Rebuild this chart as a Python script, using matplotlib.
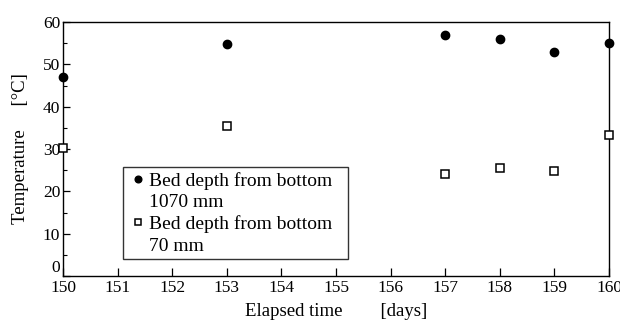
#!/usr/bin/env python3

import matplotlib
matplotlib.use('Agg')
import matplotlib.pyplot as plt
from matplotlib.lines import Line2D
from matplotlib.ticker import MultipleLocator
from matplotlib.transforms import ScaledTranslation

plt.rcParams['font.family'] = ['Liberation Serif', 'DejaVu Serif']

# Elapsed time [days]
days_deep = [150, 153, 157, 158, 159, 160]
temp_deep = [47.1, 54.8, 57.0, 56.0, 52.9, 55.0]   # 1070 mm from bottom

days_shallow = [150, 153, 157, 158, 159, 160]
temp_shallow = [30.2, 35.5, 24.2, 25.5, 24.7, 33.3]  # 70 mm from bottom

legend_lines = ['Bed depth from bottom', '1070 mm',
                'Bed depth from bottom', '70 mm']

x_ticks = list(range(150, 161))
y_ticks = [0, 10, 20, 30, 40, 50, 60]

fig = plt.figure(figsize=(6.2, 3.32), dpi=100)
ax = fig.add_axes([63 / 620, 1 - 276 / 332, 546 / 620, 254 / 332])

deep, = ax.plot(days_deep, temp_deep, 'o', color='black', markersize=6,
                clip_on=False, zorder=5)
shallow, = ax.plot(days_shallow, temp_shallow, 's', markerfacecolor='white',
                   markeredgecolor='black', markeredgewidth=1.1, markersize=5.5,
                   clip_on=False, zorder=5)

ax.set_xlim(150, 160)
ax.set_ylim(0, 60)
ax.set_xticks(x_ticks)
ax.set_yticks(y_ticks)
ax.yaxis.set_minor_locator(MultipleLocator(5))
ax.tick_params(which='both', direction='in', labelsize=12.5, pad=2)
ax.tick_params(which='major', length=5, width=0.9)
ax.tick_params(which='minor', length=3, width=0.8)
ax.tick_params(axis='x', which='major', length=6, pad=3)

for sp in ax.spines.values():
    sp.set_linewidth(1.0)

# the "0" label sits a little above the x axis in the original
fig.canvas.draw()
lbl0 = ax.get_yticklabels()[0]
lbl0.set_transform(lbl0.get_transform() + ScaledTranslation(0, 10 / 100, fig.dpi_scale_trans))

ax.set_xlabel('Elapsed time        [days]', fontsize=13.5, labelpad=5)
ax.set_ylabel('Temperature     [°C]', fontsize=13.5, labelpad=10)

# two-line labels: marker sits on the first line only
blank = Line2D([], [], linestyle='none')
leg = ax.legend([deep, blank, shallow, blank], legend_lines,
                loc='lower left', bbox_to_anchor=(0.110, 0.065, 0.412, 0.364),
                mode='expand', fontsize=14, frameon=True, fancybox=False,
                handlelength=1.05, handletextpad=0.05, borderpad=0.25,
                labelspacing=0.2, markerscale=0.8, borderaxespad=0)
leg.get_frame().set_edgecolor('black')
leg.get_frame().set_linewidth(1.0)

fig.savefig('out.png', dpi=100)
